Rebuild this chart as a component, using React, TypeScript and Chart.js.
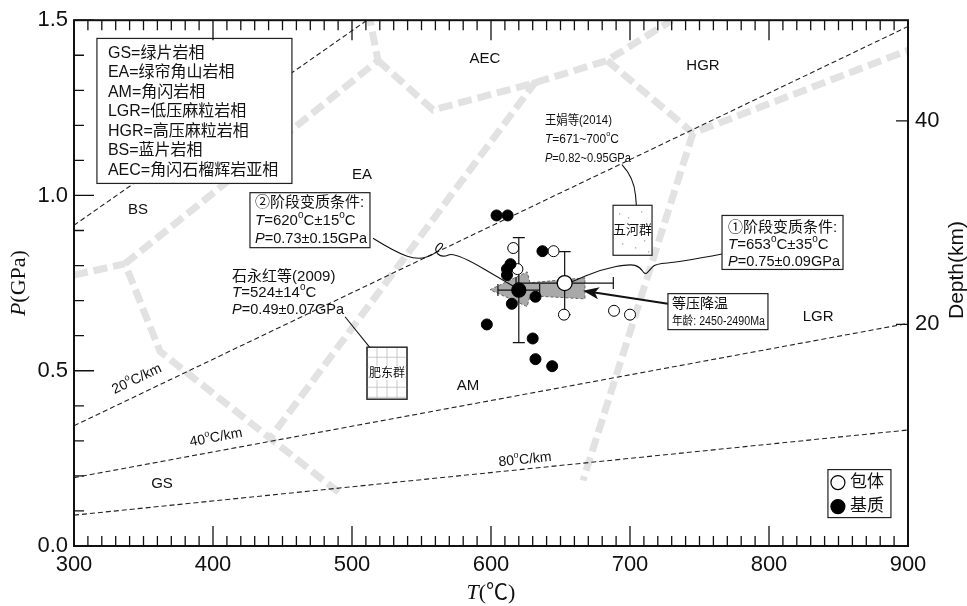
import React, { useEffect, useRef } from "react";
import { Chart, registerables } from "chart.js";
Chart.register(...registerables);

// ---------- axes ----------
const T_RANGE = [300, 900];
const P_RANGE = [0, 1.5];
const DEPTH_RANGE = [-1.8, 49.9];
const DEPTH_TICKS = [20, 40];

// ---------- samples ----------
const matrixT = [604, 612, 637, 614, 611.5, 611.5, 632, 615, 597, 630, 632, 644];
const matrixP = [0.943, 0.943, 0.841, 0.804, 0.79, 0.773, 0.711, 0.691, 0.632, 0.592, 0.533, 0.513];
const inclusionT = [616, 645, 619, 652.5, 688.5, 700];
const inclusionP = [0.85, 0.841, 0.79, 0.66, 0.671, 0.66];

// stage conditions: [stage1 (inclusion), stage2 (matrix)]
const stageT = [653, 620];
const stageDT = [35, 15];
const stageP = [0.75, 0.73];
const stageDP = [0.09, 0.15];

// ---------- geotherms ----------
const geoLabels = ["", "20^oC/km", "40^oC/km", "80^oC/km"];
const geoT = [[300, 510.8], [300, 900], [300, 900], [300, 900]];
const geoP = [[0.915, 1.5], [0.343, 1.482], [0.195, 0.635], [0.088, 0.331]];
const geoLabelT = [0, 345.3, 402.2, 624.5];
const geoLabelP = [0, 0.476, 0.309, 0.246];

// ---------- facies boundaries ----------
const faciesT = [
  [300, 336.7, 361.9, 491.4],
  [336.7, 518.7, 513],
  [518.7, 558.3, 630.2, 683.5, 730.2],
  [683.5, 745.3, 900],
  [745.3, 666.2],
  [632.4, 439.6],
];
const faciesP = [
  [0.773, 0.805, 0.555, 0.15],
  [0.805, 1.385, 1.5],
  [1.385, 1.244, 1.32, 1.385, 1.5],
  [1.385, 1.178, 1.414],
  [1.178, 0.187],
  [1.326, 0.3],
];
const faciesNames = ["GS", "EA", "BS", "AEC", "HGR", "LGR", "AM"];
const faciesNameT = [363.3, 507.2, 346, 595.7, 752.5, 835.3, 583.5];
const faciesNameP = [0.176, 1.059, 0.96, 1.391, 1.371, 0.654, 0.456];
const faciesLegend = [
  "GS=绿片岩相",
  "EA=绿帘角山岩相",
  "AM=角闪岩相",
  "LGR=低压麻粒岩相",
  "HGR=高压麻粒岩相",
  "BS=蓝片岩相",
  "AEC=角闪石榴辉岩亚相",
];

// isobaric cooling arrow (grey)
const coolT = [667.6, 628.1, 626, 599.3, 626, 628.1, 667.6, 667.6];
const coolP = [0.765, 0.751, 0.782, 0.731, 0.683, 0.714, 0.705, 0.765];

// ---------- texts ----------
const box2Lines = ["②阶段变质条件:", "*T*=620^oC±15^oC", "*P*=0.73±0.15GPa"];
const box1Lines = ["①阶段变质条件:", "*T*=653^oC±35^oC", "*P*=0.75±0.09GPa"];
const coolLines = ["等压降温", "年龄: 2450-2490Ma"];
const wangLines = ["王娟等(2014)", "*T*=671~700^oC", "*P*=0.82~0.95GPa"];
const shiLines = ["石永红等(2009)", "*T*=524±14^oC", "*P*=0.49±0.07GPa"];
const pointLegend = ["包体", "基质"];

// connector paths (T, P)
const conn2T = [515.1, 530.9, 547.5, 559.7, 566.2, 563.3, 559.0, 564.7, 574.1, 615.8];
const conn2P = [0.878, 0.839, 0.816, 0.833, 0.858, 0.867, 0.844, 0.822, 0.839, 0.742];
const conn1T = [766.2, 736, 718, 714.4, 710.8, 707.2, 700, 678.4, 658.3];
const conn1P = [0.833, 0.81, 0.805, 0.788, 0.773, 0.796, 0.805, 0.788, 0.754];
const connWangT = [694.2, 702.9, 705];
const connWangP = [1.088, 1.051, 0.952];
const connShiT = [495, 518];
const connShiP = [0.654, 0.541];
const coolArrowT = [727.3, 666.2];
const coolArrowP = [0.691, 0.728];

// ---------- layout (annotation anchors in data units) ----------
const LAYOUT = {
  faciesBox: { T: 316.5, P: 1.448, w: 195, h: 145 },
  box2: { T: 426.6, P: 1.008, w: 120, h: 55 },
  box1: { T: 766.2, P: 0.943, w: 121, h: 54 },
  coolBox: { T: 727.3, P: 0.72, w: 100, h: 36 },
  wang: { T: 638.8, P: 1.215 },
  shi: { T: 413.7, P: 0.768 },
  feidong: { T: 510.8, P: 0.567, w: 40, h: 52 },
  wuhe: { T: 687.8, P: 0.972, w: 39, h: 50 },
  ptLegend: { T: 842.4, P: 0.218, w: 63, h: 48 },
};

const SANS = '"Liberation Sans", Arial, "Noto Sans CJK SC", sans-serif';
const SERIF = '"Liberation Serif", "Times New Roman", "Noto Sans CJK SC", serif';

function segsOf(text: string) {
  const segs: any[] = [];
  let italic = false;
  let buf = "";
  for (let i = 0; i < text.length; i++) {
    const c = text[i];
    if (c === "*") {
      if (buf) segs.push({ t: buf, italic, sup: false });
      buf = "";
      italic = !italic;
    } else if (c === "^") {
      if (buf) segs.push({ t: buf, italic, sup: false });
      buf = "";
      segs.push({ t: text[i + 1], italic, sup: true });
      i++;
    } else buf += c;
  }
  if (buf) segs.push({ t: buf, italic, sup: false });
  return segs;
}

function drawRich(ctx: any, text: string, x: number, y: number, size: number, family = SANS, align = "left", maxW = 0) {
  const segs = segsOf(text);
  const fontFor = (s: any) => `${s.italic ? "italic " : ""}${s.sup ? Math.round(size * 0.65) : size}px ${family}`;
  let w = 0;
  const widths = segs.map((s) => {
    ctx.font = fontFor(s);
    const m = ctx.measureText(s.t).width;
    w += m;
    return m;
  });
  const k = maxW && w > maxW ? maxW / w : 1;
  let cx = align === "center" ? x - (w * k) / 2 : align === "right" ? x - w * k : x;
  ctx.save();
  ctx.textBaseline = "middle";
  ctx.textAlign = "left";
  ctx.fillStyle = "#111";
  segs.forEach((s, i) => {
    ctx.font = fontFor(s);
    ctx.fillText(s.t, cx, s.sup ? y - size * 0.38 : y, widths[i] * k);
    cx += widths[i] * k;
  });
  ctx.restore();
  return w * k;
}

function smoothPath(ctx: any, pts: number[][]) {
  ctx.beginPath();
  ctx.moveTo(pts[0][0], pts[0][1]);
  for (let i = 1; i < pts.length - 1; i++) {
    const mx = (pts[i][0] + pts[i + 1][0]) / 2;
    const my = (pts[i][1] + pts[i + 1][1]) / 2;
    ctx.quadraticCurveTo(pts[i][0], pts[i][1], mx, my);
  }
  const l = pts[pts.length - 1];
  ctx.lineTo(l[0], l[1]);
  ctx.stroke();
}

const annotPlugin = {
  id: "annot",
  afterDatasetsDraw(chart: any) {
    const ctx = chart.ctx;
    const xs = chart.scales.x;
    const ys = chart.scales.y;
    const X = (t: number) => xs.getPixelForValue(t);
    const Y = (p: number) => ys.getPixelForValue(p);
    const { left, right, top, bottom } = chart.chartArea;

    ctx.save();
    // geotherm labels
    geoLabels.forEach((lab, i) => {
      if (!lab) return;
      const a = Math.atan2(Y(geoP[i][1]) - Y(geoP[i][0]), X(geoT[i][1]) - X(geoT[i][0]));
      ctx.save();
      ctx.translate(X(geoLabelT[i]), Y(geoLabelP[i]));
      ctx.rotate(a);
      drawRich(ctx, lab, 0, 0, 14, SANS, "center");
      ctx.restore();
    });

    // facies names
    faciesNames.forEach((n, i) => drawRich(ctx, n, X(faciesNameT[i]), Y(faciesNameP[i]), 15, SANS, "center"));

    ctx.strokeStyle = "#111";
    ctx.lineWidth = 1.1;
    // connectors
    smoothPath(ctx, conn2T.map((t, i) => [X(t), Y(conn2P[i])]));
    smoothPath(ctx, conn1T.map((t, i) => [X(t), Y(conn1P[i])]));
    smoothPath(ctx, connWangT.map((t, i) => [X(t), Y(connWangP[i])]));
    smoothPath(ctx, connShiT.map((t, i) => [X(t), Y(connShiP[i])]));

    // cooling arrow
    {
      const x0 = X(coolArrowT[0]), y0 = Y(coolArrowP[0]);
      const x1 = X(coolArrowT[1]), y1 = Y(coolArrowP[1]);
      const a = Math.atan2(y1 - y0, x1 - x0);
      ctx.lineWidth = 2;
      ctx.beginPath();
      ctx.moveTo(x0, y0);
      ctx.lineTo(x1 - Math.cos(a) * 10, y1 - Math.sin(a) * 10);
      ctx.stroke();
      ctx.fillStyle = "#111";
      ctx.beginPath();
      ctx.moveTo(x1, y1);
      ctx.lineTo(x1 - Math.cos(a) * 16 + Math.sin(a) * 6, y1 - Math.sin(a) * 16 - Math.cos(a) * 6);
      ctx.lineTo(x1 - Math.cos(a) * 12, y1 - Math.sin(a) * 12);
      ctx.lineTo(x1 - Math.cos(a) * 16 - Math.sin(a) * 6, y1 - Math.sin(a) * 16 + Math.cos(a) * 6);
      ctx.closePath();
      ctx.fill();
    }

    const box = (b: any) => {
      const bx = X(b.T), by = Y(b.P);
      ctx.fillStyle = "#fff";
      ctx.fillRect(bx, by, b.w, b.h);
      ctx.strokeStyle = "#222";
      ctx.lineWidth = 1.2;
      ctx.strokeRect(bx, by, b.w, b.h);
      return [bx, by];
    };

    // facies legend box
    {
      const [bx, by] = box(LAYOUT.faciesBox);
      faciesLegend.forEach((l, i) => drawRich(ctx, l, bx + 11, by + 15 + i * 19.5, 16, SANS));
    }
    // stage 2 box
    {
      const [bx, by] = box(LAYOUT.box2);
      const offs = [10, 28.5, 46.5];
      box2Lines.forEach((l, i) => drawRich(ctx, l, bx + 5, by + offs[i], 15, SANS, "left", 112));
    }
    // stage 1 box
    {
      const [bx, by] = box(LAYOUT.box1);
      const offs = [12, 29.5, 46.5];
      box1Lines.forEach((l, i) => drawRich(ctx, l, bx + 6, by + offs[i], 15, SANS, "left", 112));
    }
    // cooling box
    {
      const [bx, by] = box(LAYOUT.coolBox);
      drawRich(ctx, coolLines[0], bx + 4, by + 11, 14, SANS);
      drawRich(ctx, coolLines[1], bx + 4, by + 28, 12, SANS, "left", 93);
    }
    // Wang text
    {
      const bx = X(LAYOUT.wang.T), by = Y(LAYOUT.wang.P);
      wangLines.forEach((l, i) => drawRich(ctx, l, bx, by + i * 19, 13, SANS, "left", i === 2 ? 86 : i === 0 ? 67 : 74));
    }
    // Shi text
    {
      const bx = X(LAYOUT.shi.T), by = Y(LAYOUT.shi.P);
      shiLines.forEach((l, i) => drawRich(ctx, l, bx, by + i * 16.5, 15, SANS, "left", 112));
    }
    // Feidong box with grid
    {
      const b = LAYOUT.feidong;
      const [bx, by] = box(b);
      ctx.strokeStyle = "#bbb";
      ctx.lineWidth = 0.8;
      ctx.beginPath();
      for (let gx = bx + 10; gx < bx + b.w; gx += 10) {
        ctx.moveTo(gx, by);
        ctx.lineTo(gx, by + b.h);
      }
      for (let gy = by + 10; gy < by + b.h; gy += 10) {
        ctx.moveTo(bx, gy);
        ctx.lineTo(bx + b.w, gy);
      }
      ctx.stroke();
      ctx.strokeStyle = "#333";
      ctx.lineWidth = 1.1;
      ctx.strokeRect(bx, by, b.w, b.h);
      ctx.fillStyle = "#fff";
      ctx.fillRect(bx + 2, by + b.h / 2 - 7, b.w - 4, 14);
      drawRich(ctx, "肥东群", bx + b.w / 2, by + b.h / 2, 12, SANS, "center");
    }
    // Wuhe box with speckles
    {
      const b = LAYOUT.wuhe;
      const [bx, by] = box(b);
      ctx.fillStyle = "#999";
      const dots = [[6, 8], [15, 12], [28, 6], [33, 18], [9, 38], [22, 42], [31, 35], [35, 46], [4, 24]];
      dots.forEach(([dx, dy]) => ctx.fillRect(bx + dx, by + dy, 1.2, 1.2));
      drawRich(ctx, "五河群", bx + b.w / 2, by + b.h / 2, 13, SANS, "center");
    }
    // point legend
    {
      const b = LAYOUT.ptLegend;
      const [bx, by] = box(b);
      const offs = [13, 37];
      offs.forEach((o, i) => {
        ctx.beginPath();
        ctx.arc(bx + 10, by + o, 7, 0, Math.PI * 2);
        ctx.fillStyle = i === 0 ? "#fff" : "#000";
        ctx.fill();
        ctx.strokeStyle = "#000";
        ctx.lineWidth = 1.2;
        ctx.stroke();
        drawRich(ctx, pointLegend[i], bx + 22, by + o, 17, SANS);
      });
    }

    // frame and ticks
    ctx.strokeStyle = "#111";
    ctx.lineWidth = 1.3;
    ctx.beginPath();
    for (let t = 300; t <= 900; t += 10) {
      const px = X(t);
      const len = t % 100 === 0 ? 20 : 10;
      ctx.moveTo(px, bottom);
      ctx.lineTo(px, bottom - len);
      ctx.moveTo(px, top);
      ctx.lineTo(px, top + len);
    }
    for (let k = 0; k <= 15; k++) {
      const py = Y(k / 10);
      const len = k % 5 === 0 ? 20 : 10;
      ctx.moveTo(left, py);
      ctx.lineTo(left + len, py);
    }
    const ds = chart.scales.y2;
    DEPTH_TICKS.forEach((d) => {
      const py = ds.getPixelForValue(d);
      ctx.moveTo(right, py);
      ctx.lineTo(right - 12, py);
    });
    ctx.stroke();
    ctx.lineWidth = 2;
    ctx.strokeRect(left, top, right - left, bottom - top);

    // axis titles
    drawRich(ctx, "*T*(℃)", (left + right) / 2, bottom + 47, 22, SERIF, "center");
    ctx.save();
    ctx.translate(19, (top + bottom) / 2);
    ctx.rotate(-Math.PI / 2);
    drawRich(ctx, "*P*(GPa)", 0, 0, 22, SERIF, "center");
    ctx.restore();
    ctx.save();
    ctx.translate(957, 270);
    ctx.rotate(-Math.PI / 2);
    drawRich(ctx, "Depth(km)", 0, 0, 21, SANS, "center");
    ctx.restore();
    ctx.restore();
  },
};

function buildDatasets() {
  const ds: any[] = [];
  faciesT.forEach((ts, i) =>
    ds.push({
      type: "line",
      data: ts.map((t, j) => ({ x: t, y: faciesP[i][j] })),
      showLine: true,
      borderColor: "#e2e2e2",
      borderWidth: 7,
      borderDash: [14, 6],
      borderCapStyle: "butt",
      borderJoinStyle: "miter",
      pointRadius: 0,
      fill: false,
      tension: 0,
      order: 10,
    })
  );
  geoT.forEach((ts, i) =>
    ds.push({
      type: "line",
      data: ts.map((t, j) => ({ x: t, y: geoP[i][j] })),
      showLine: true,
      borderColor: "#222",
      borderWidth: 1.1,
      borderDash: [5, 3],
      pointRadius: 0,
      fill: false,
      order: 8,
    })
  );
  ds.push({
    type: "line",
    data: coolT.map((t, j) => ({ x: t, y: coolP[j] })),
    showLine: true,
    borderColor: "#666",
    borderWidth: 1,
    borderDash: [3, 2],
    backgroundColor: "#a9a9a9",
    fill: "shape",
    pointRadius: 0,
    order: 6,
  });
  stageT.forEach((t, i) => {
    ds.push({
      type: "line",
      data: [
        { x: t - stageDT[i], y: stageP[i] },
        { x: t + stageDT[i], y: stageP[i] },
      ],
      showLine: true,
      borderColor: "#111",
      borderWidth: 1.2,
      pointStyle: "line",
      rotation: 90,
      pointRadius: 6,
      pointBorderColor: "#111",
      pointBorderWidth: 1.2,
      fill: false,
      order: 4,
    });
    ds.push({
      type: "line",
      data: [
        { x: t, y: stageP[i] - stageDP[i] },
        { x: t, y: stageP[i] + stageDP[i] },
      ],
      showLine: true,
      borderColor: "#111",
      borderWidth: 1.2,
      pointStyle: "line",
      rotation: 0,
      pointRadius: 6,
      pointBorderColor: "#111",
      pointBorderWidth: 1.2,
      fill: false,
      order: 4,
    });
  });
  ds.push({
    type: "scatter",
    data: matrixT.map((t, j) => ({ x: t, y: matrixP[j] })),
    pointRadius: 5.5,
    backgroundColor: "#000",
    borderColor: "#000",
    borderWidth: 1,
    order: 1,
  });
  ds.push({
    type: "scatter",
    data: inclusionT.map((t, j) => ({ x: t, y: inclusionP[j] })),
    pointRadius: 5.5,
    backgroundColor: "#fff",
    borderColor: "#000",
    borderWidth: 1,
    order: 1,
  });
  ds.push({
    type: "scatter",
    data: stageT.map((t, j) => ({ x: t, y: stageP[j] })),
    pointRadius: [7.5, 7],
    backgroundColor: ["#fff", "#000"],
    borderColor: "#000",
    borderWidth: 1.3,
    order: 0,
  });
  return ds;
}

export default function App() {
  const ref = useRef<HTMLCanvasElement>(null);
  useEffect(() => {
    document.body.style.margin = "0";
    const canvas = ref.current!;
    const tickFont = { family: SANS, size: 22 };
    const chart = new Chart(canvas, {
      type: "scatter",
      data: { datasets: buildDatasets() },
      options: {
        animation: false,
        responsive: true,
        maintainAspectRatio: false,
        layout: { padding: { top: 16, left: 0, right: 0, bottom: 0 } },
        plugins: { legend: { display: false }, tooltip: { enabled: false } },
        scales: {
          x: {
            type: "linear",
            min: T_RANGE[0],
            max: T_RANGE[1],
            grid: { display: false, drawTicks: false },
            border: { display: false },
            ticks: { stepSize: 100, font: tickFont, color: "#111", padding: 6, maxRotation: 0, autoSkip: false },
            afterFit: (s: any) => {
              s.height = 60;
            },
          },
          y: {
            type: "linear",
            position: "left",
            min: P_RANGE[0],
            max: P_RANGE[1],
            grid: { display: false, drawTicks: false },
            border: { display: false },
            ticks: { stepSize: 0.5, font: tickFont, color: "#111", padding: 6, callback: (v: any) => Number(v).toFixed(1) },
            afterFit: (s: any) => {
              s.width = 74;
            },
          },
          y2: {
            type: "linear",
            position: "right",
            min: DEPTH_RANGE[0],
            max: DEPTH_RANGE[1],
            grid: { display: false, drawTicks: false },
            border: { display: false },
            ticks: { font: tickFont, color: "#111", padding: 7 },
            afterBuildTicks: (s: any) => {
              s.ticks = DEPTH_TICKS.map((v) => ({ value: v }));
            },
            afterFit: (s: any) => {
              s.width = 59;
            },
          },
        },
      },
      plugins: [annotPlugin],
    } as any);
    return () => chart.destroy();
  }, []);
  return (
    <div style={{ width: 967, height: 606, position: "relative" }}>
      <canvas ref={ref} />
    </div>
  );
}
